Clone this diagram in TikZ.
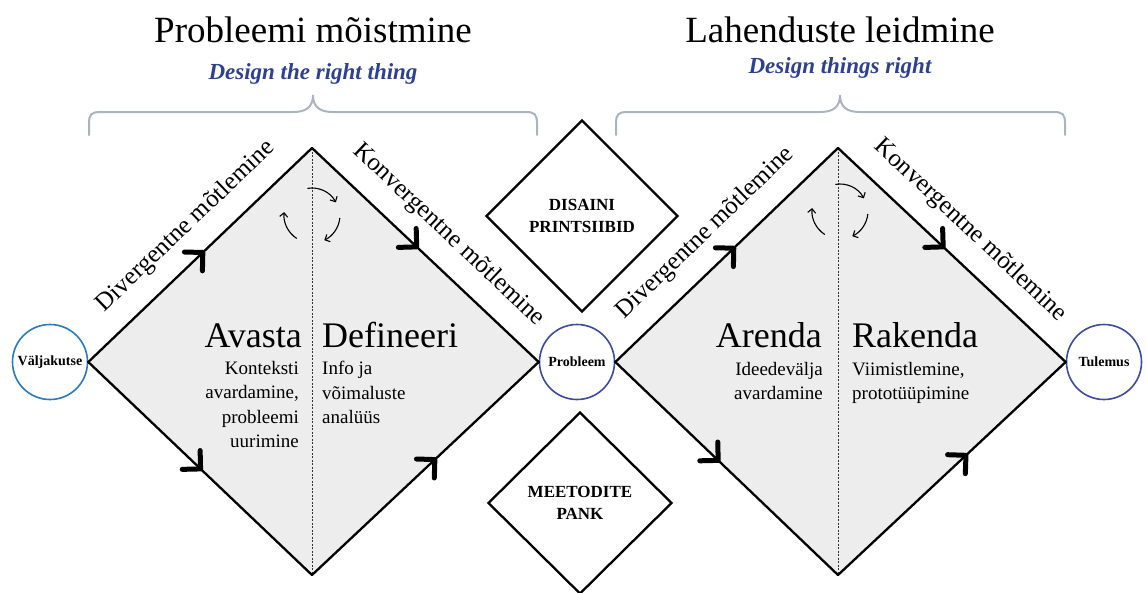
\documentclass[tikz,border=0pt]{standalone}
\usepackage{fontspec}
\setmainfont{Liberation Serif}
\usetikzlibrary{arrows.meta,decorations.markings,shapes.geometric}

\definecolor{circblue}{HTML}{2A7ABE}
\definecolor{navy}{HTML}{3C4C9E}
\definecolor{mottoblue}{HTML}{2D4190}
\definecolor{bracegray}{HTML}{AAB4BE}
\definecolor{dfill}{HTML}{EDEDED}

\tikzset{
  headline/.style={font=\fontsize{37}{40}\selectfont, inner sep=0},
  motto/.style={font=\bfseries\itshape\fontsize{23}{26}\selectfont, text=mottoblue, inner sep=0},
  stage/.style={font=\fontsize{36}{40}\selectfont, inner sep=0},
  note/.style={font=\fontsize{19}{24.5}\selectfont, inner sep=0},
  think/.style={font=\fontsize{25}{28}\selectfont, inner sep=0, sloped},
  endpt/.style={circle, draw=navy, line width=1.6pt, fill=white, minimum size=75pt,
    inner sep=0, font=\bfseries\fontsize{14}{16}\selectfont},
  pillar/.style={diamond, draw, line width=2.3pt, inner sep=0, align=center,
    font=\bfseries\fontsize{17}{22}\selectfont},
  rim/.style={line width=2.3pt, line cap=round, postaction={decorate},
    decoration={markings, mark=at position #1 with
      {\arrow{Straight Barb[length=13pt,width=26pt,line width=5pt 0,round]}}}},
  bracestroke/.style={draw=bracegray, line width=2pt, line cap=round},
  midline/.style={dash pattern=on 2pt off 1.5pt, line width=0.7pt, draw=black!80},
  cyc/.style={line width=1.1pt, -{Straight Barb[length=4pt,width=8pt]}},
}

\begin{document}
\begin{tikzpicture}[x=1pt,y=-1pt]
\useasboundingbox (0,0) rectangle (1147,592);

% titles
\node[headline, anchor=base] (ltitle) at (313,42) {Probleemi mõistmine};
\node[motto, anchor=base] (lmotto) at (313,79) {Design the right thing};
\node[headline, anchor=base] (rtitle) at (840,42) {Lahenduste leidmine};
\node[motto, anchor=base] (rmotto) at (840,73) {Design things right};

% braces
\draw[bracestroke] (89,135) -- (89,124) .. controls (89,114) and (91,112) .. (101,112) -- (293,112)
  .. controls (305,112) and (313,108) .. (313,95) .. controls (313,108) and (321,112) .. (333,112)
  -- (525,112) .. controls (535,112) and (537,114) .. (537,124) -- (537,135);
\draw[bracestroke] (616,135) -- (616,124) .. controls (616,114) and (618,112) .. (628,112) -- (820,112)
  .. controls (832,112) and (840,108) .. (840,95) .. controls (840,108) and (848,112) .. (860,112)
  -- (1053,112) .. controls (1063,112) and (1065,114) .. (1065,124) -- (1065,135);

% start, middle and end
\node[endpt, draw=circblue] (valj) at (50,362) {Väljakutse};
\node[endpt] (prob) at (577,362) {Probleem};
\node[endpt] (tul) at (1104,362) {Tulemus};

\coordinate (ltop) at (312,148);
\coordinate (lbot) at (312,575);
\coordinate (rtop) at (838,148);
\coordinate (rbot) at (838,575);

% diamonds
\fill[dfill] (valj.east) -- (ltop) -- (prob.west) -- (lbot) -- cycle;
\fill[dfill] (prob.east) -- (rtop) -- (tul.west) -- (rbot) -- cycle;
\draw[midline] (ltop) -- (lbot);
\draw[midline] (rtop) -- (rbot);

\draw[rim=0.52] (valj.east) -- node[think, pos=0.53, above=18pt] {Divergentne mõtlemine} (ltop);
\draw[rim=0.51] (valj.east) -- (lbot);
\draw[rim=0.47] (ltop) -- node[think, pos=0.51, above=18pt] {Konvergentne mõtlemine} (prob.west);
\draw[rim=0.55] (lbot) -- (prob.west);

\draw[rim=0.54] (prob.east) -- node[think, pos=0.5, above=18pt] {Divergentne mõtlemine} (rtop);
\draw[rim=0.47] (prob.east) -- (rbot);
\draw[rim=0.47] (rtop) -- node[think, pos=0.49, above=18pt] {Konvergentne mõtlemine} (tul.west);
\draw[rim=0.57] (rbot) -- (tul.west);

% cycle arrows
\coordinate (lcyc) at (312,215);
\coordinate (rcyc) at (840,211);
\foreach \c in {lcyc,rcyc}{
  \draw[cyc] ([shift={(-100:27)}]\c) arc[start angle=-100, end angle=-28, radius=27];
  \draw[cyc] ([shift={(6:28)}]\c) arc[start angle=6, end angle=64, radius=28];
  \draw[cyc] ([shift={(123:28)}]\c) arc[start angle=123, end angle=186, radius=28];
}

% stages
\node[stage, anchor=base east] (avasta) at (302,347) {Avasta};
\node[stage, anchor=base west] (defin) at (322,347) {Defineeri};
\node[stage, anchor=base east] (arenda) at (822,347) {Arenda};
\node[stage, anchor=base west] (rakenda) at (852,347) {Rakenda};

\node[note, align=right, anchor=north east] (avnote) at (299,361) {Konteksti\\avardamine,\\probleemi\\uurimine};
\node[note, align=left, anchor=north west] (denote) at (322,361) {Info ja\\võimaluste\\analüüs};
\node[note, align=right, anchor=north east] (arnote) at (823,362) {Ideedevälja\\avardamine};
\node[note, align=left, anchor=north west] (ranote) at (852,362) {Viimistlemine,\\prototüüpimine};

% pillars
\node[pillar, minimum width=192pt, minimum height=192pt] (princ) at (582,216) {DISAINI\\PRINTSIIBID};
\node[pillar, minimum width=184pt, minimum height=182pt] (pank) at (580,503) {MEETODITE\\PANK};
\end{tikzpicture}
\end{document}
